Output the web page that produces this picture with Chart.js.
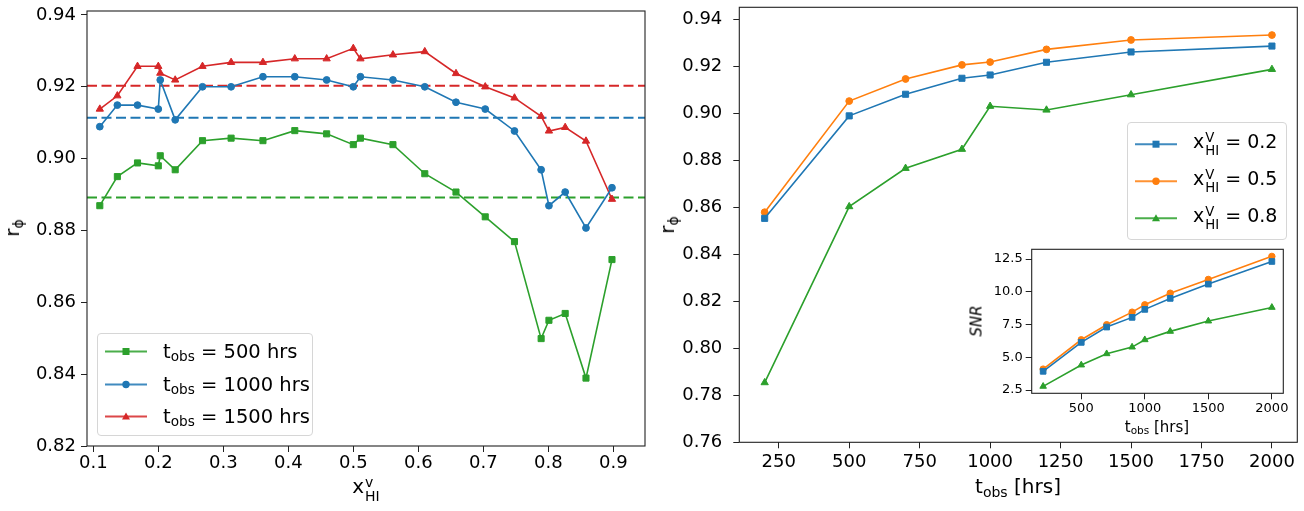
<!DOCTYPE html>
<html lang="en">
  <head>
    <meta charset="UTF-8" />
    <title>r_phi against x_HI and t_obs</title>
    <style>
      body { margin: 0; background: #fff; font-family: "DejaVu Sans", sans-serif; }
      #wrap { position: relative; width: 1304px; height: 511px; overflow: hidden; }
      canvas { position: absolute; }
      .lbl { position: absolute; transform: translate(-50%, -50%); white-space: nowrap; color: #000; font-size: 20px; line-height: 1; }
      .rot { transform: translate(-50%, -50%) rotate(-90deg); }
      sub { font-size: 0.7em; vertical-align: -0.28em; line-height: 0; }
      .ss { display: inline-flex; flex-direction: column; font-size: 0.7em; line-height: 1; vertical-align: 0.45em; margin-left: 1px; }
      .legend { position: absolute; border: 1px solid #d6d6d6; border-radius: 4px; background: rgba(255, 255, 255, 0.8); box-sizing: border-box; }
      .row { position: absolute; left: 0; display: flex; align-items: center; transform: translateY(-50%); white-space: nowrap; }
      .row svg { display: block; }
    </style>
  </head>
  <body>
    <div id="wrap">
      <canvas id="left" width="660" height="511" style="left:0;top:0"></canvas>
      <canvas id="right" width="644" height="511" style="left:660px;top:0"></canvas>
      <canvas id="inset" width="330" height="200" style="left:966px;top:244px"></canvas>

      <div class="lbl rot" style="left:12px;top:228px">r<sub>ϕ</sub></div>
      <div class="lbl" style="left:366px;top:489px">x<span class="ss"><span>v</span><span>HI</span></span></div>
      <div class="lbl rot" style="left:667px;top:225px">r<sub>ϕ</sub></div>
      <div class="lbl" style="left:1018px;top:486px">t<sub>obs</sub> [hrs]</div>
      <div class="lbl" style="left:1157px;top:427px;font-size:15px">t<sub>obs</sub> [hrs]</div>
      <div class="lbl rot" style="left:977px;top:321px;font-size:15px;font-style:italic">SNR</div>

      <div id="legLeft" class="legend" style="left:97px;top:333px;width:216px;height:103px"></div>
      <div id="legRight" class="legend" style="left:1127px;top:122px;width:160px;height:118px"></div>
    </div>

    <script src="https://cdn.jsdelivr.net/npm/chart.js@4.4.0/dist/chart.umd.min.js"></script>
    <script>
      // left panel: r_phi against neutral fraction
      const xHI = [0.110, 0.137, 0.168, 0.200, 0.203, 0.226, 0.268, 0.312, 0.361, 0.410, 0.459, 0.500,
                   0.511, 0.561, 0.610, 0.658, 0.703, 0.748, 0.789, 0.801, 0.826, 0.858, 0.898];
      const r500 = [0.8869, 0.8950, 0.8988, 0.8980, 0.9008, 0.8969, 0.9050, 0.9057, 0.9050, 0.9078, 0.9069, 0.9039,
                    0.9057, 0.9039, 0.8958, 0.8907, 0.8838, 0.8769, 0.8499, 0.8550, 0.8569, 0.8389, 0.8719];
      const r1000 = [0.9089, 0.9149, 0.9149, 0.9138, 0.9219, 0.9108, 0.9200, 0.9200, 0.9228, 0.9228, 0.9219, 0.9200,
                     0.9228, 0.9219, 0.9200, 0.9157, 0.9138, 0.9077, 0.8969, 0.8869, 0.8907, 0.8807, 0.8919];
      const r1500 = [0.9138, 0.9175, 0.9257, 0.9257, 0.9238, 0.9219, 0.9257, 0.9268, 0.9268, 0.9278, 0.9278, 0.9307,
                     0.9278, 0.9289, 0.9298, 0.9237, 0.9200, 0.9169, 0.9118, 0.9077, 0.9087, 0.9049, 0.8887];
      const meanR = [0.8892, 0.9114, 0.9203]; // 500, 1000, 1500 hrs
      const xTicksLeft = [0.1, 0.2, 0.3, 0.4, 0.5, 0.6, 0.7, 0.8, 0.9];
      const yTicksLeft = [0.82, 0.84, 0.86, 0.88, 0.90, 0.92, 0.94];

      // right panel: r_phi against observing time
      const tObs = [200, 500, 700, 900, 1000, 1200, 1500, 2000];
      const rX02 = [0.8553, 0.8989, 0.9081, 0.9149, 0.9163, 0.9217, 0.9261, 0.9286];
      const rX05 = [0.8579, 0.9052, 0.9146, 0.9206, 0.9218, 0.9272, 0.9312, 0.9333];
      const rX08 = [0.7854, 0.8603, 0.8766, 0.8847, 0.9030, 0.9014, 0.9079, 0.9187];
      const xTicksRight = [250, 500, 750, 1000, 1250, 1500, 1750, 2000];
      const yTicksRight = [0.76, 0.78, 0.80, 0.82, 0.84, 0.86, 0.88, 0.90, 0.92, 0.94];

      // inset: SNR against observing time
      const snrX02 = [3.93, 6.14, 7.31, 8.05, 8.66, 9.50, 10.59, 12.32];
      const snrX05 = [4.10, 6.34, 7.49, 8.45, 9.01, 9.90, 10.95, 12.71];
      const snrX08 = [2.78, 4.41, 5.27, 5.78, 6.34, 6.98, 7.77, 8.81];
      const xTicksInset = [500, 1000, 1500, 2000];
      const yTicksInset = [2.5, 5.0, 7.5, 10.0, 12.5];

      const C = { blue: "#1f77b4", orange: "#ff7f0e", green: "#2ca02c", red: "#d62728" };

      Chart.defaults.font.family = "'DejaVu Sans', sans-serif";
      Chart.defaults.color = "#000";

      // white axes face + black frame round the plot area
      const frame = {
        id: "frame",
        beforeDraw(chart) {
          const a = chart.chartArea, ctx = chart.ctx;
          ctx.save();
          ctx.fillStyle = "#fff";
          ctx.fillRect(a.left, a.top, a.right - a.left, a.bottom - a.top);
          ctx.restore();
        },
        afterDraw(chart) {
          const a = chart.chartArea, ctx = chart.ctx;
          ctx.save();
          ctx.strokeStyle = "#222";
          ctx.lineWidth = 1.1;
          ctx.strokeRect(a.left, a.top, a.right - a.left, a.bottom - a.top);
          ctx.restore();
        }
      };

      function axis(ticks, min, max, digits, size, fitKey, fitVal, pad) {
        return {
          type: "linear", min, max,
          afterBuildTicks: s => { s.ticks = ticks.map(v => ({ value: v })); },
          afterFit: s => {
            s[fitKey] = fitVal;
            // plot area is placed by layout padding, not by label overflow
            s.paddingTop = s.paddingBottom = s.paddingLeft = s.paddingRight = 0;
          },
          ticks: { callback: v => Number(v).toFixed(digits), font: { size }, padding: pad, maxRotation: 0, autoSkip: false, color: "#000" },
          grid: { display: true, drawOnChartArea: false, drawTicks: true, tickLength: 6, color: "#222" },
          border: { display: false }
        };
      }

      function series(xs, ys, color, shape, r) {
        return {
          data: xs.map((x, i) => ({ x, y: ys[i] })),
          borderColor: color, backgroundColor: color, borderWidth: 1.6,
          pointStyle: shape, pointRadius: r, pointBorderWidth: 1, pointBorderColor: color,
          tension: 0, fill: false
        };
      }

      function hline(y, color, x0, x1) {
        return { data: [{ x: x0, y }, { x: x1, y }], borderColor: color, borderWidth: 2, borderDash: [10, 4.5], pointRadius: 0, fill: false };
      }

      function options(scales, padding) {
        return {
          responsive: false, animation: false, events: [],
          layout: { padding },
          plugins: { legend: { display: false }, tooltip: { enabled: false } },
          scales
        };
      }

      const xMinL = 0.0903, xMaxL = 0.9488;
      new Chart(document.getElementById("left"), {
        type: "line",
        data: {
          datasets: [
            series(xHI, r500, C.green, "rect", 4.3),
            series(xHI, r1000, C.blue, "circle", 3.4),
            series(xHI, r1500, C.red, "triangle", 4.2),
            hline(meanR[0], C.green, xMinL, xMaxL),
            hline(meanR[1], C.blue, xMinL, xMaxL),
            hline(meanR[2], C.red, xMinL, xMaxL)
          ]
        },
        options: options({
          x: axis(xTicksLeft, xMinL, xMaxL, 1, 18, "height", 65, 1),
          y: axis(yTicksLeft, 0.82, 0.9411, 2, 18, "width", 87, 5)
        }, { left: 0, top: 11, right: 15, bottom: 0 }),
        plugins: [frame]
      });

      new Chart(document.getElementById("right"), {
        type: "line",
        data: {
          datasets: [
            series(tObs, rX02, C.blue, "rect", 4.3),
            series(tObs, rX05, C.orange, "circle", 3.4),
            series(tObs, rX08, C.green, "triangle", 4.2)
          ]
        },
        options: options({
          x: axis(xTicksRight, 110, 2090, 0, 18, "height", 68.7, 3),
          y: axis(yTicksRight, 0.76, 0.9451, 2, 18, "width", 79.3, 11)
        }, { left: 0, top: 7.3, right: 6.7, bottom: 0 }),
        plugins: [frame]
      });

      new Chart(document.getElementById("inset"), {
        type: "line",
        data: {
          datasets: [
            series(tObs, snrX02, C.blue, "rect", 4),
            series(tObs, snrX05, C.orange, "circle", 3.2),
            series(tObs, snrX08, C.green, "triangle", 3.8)
          ]
        },
        options: options({
          x: axis(xTicksInset, 110, 2090, 0, 13, "height", 50.7, 2),
          y: axis(yTicksInset, 2.25, 13.25, 1, 13, "width", 65.7, 3)
        }, { left: 0, top: 5.3, right: 12.7, bottom: 0 }),
        plugins: [frame]
      });

      // legends: line with marker in the middle, then the label
      function markerSvg(color, shape) {
        let m = "";
        if (shape === "rect") m = `<rect x="17.5" y="2.5" width="7" height="7" fill="${color}"/>`;
        if (shape === "circle") m = `<circle cx="21" cy="6" r="3.7" fill="${color}"/>`;
        if (shape === "triangle") m = `<polygon points="21,2 25,9 17,9" fill="${color}"/>`;
        return `<svg width="42" height="12"><line x1="0" y1="6" x2="42" y2="6" stroke="${color}" stroke-opacity="0.85" stroke-width="2"/>${m}</svg>`;
      }

      function fillLegend(id, rows, rowY, fontSize) {
        const box = document.getElementById(id);
        rows.forEach((r, i) => {
          const d = document.createElement("div");
          d.className = "row";
          d.style.top = rowY[i] + "px";
          d.style.left = "7px";
          d.style.fontSize = fontSize + "px";
          d.innerHTML = markerSvg(r.color, r.shape) + `<span style="margin-left:16px">${r.html}</span>`;
          box.appendChild(d);
        });
      }

      const legLeftLabels = ["500", "1000", "1500"];
      fillLegend("legLeft", [
        { color: C.green, shape: "rect", html: `t<sub>obs</sub> = ${legLeftLabels[0]} hrs` },
        { color: C.blue, shape: "circle", html: `t<sub>obs</sub> = ${legLeftLabels[1]} hrs` },
        { color: C.red, shape: "triangle", html: `t<sub>obs</sub> = ${legLeftLabels[2]} hrs` }
      ], [17, 50, 82], 19.5);

      const legRightLabels = ["0.2", "0.5", "0.8"];
      fillLegend("legRight", [
        { color: C.blue, shape: "rect", html: `x<span class="ss"><span>V</span><span>HI</span></span> = ${legRightLabels[0]}` },
        { color: C.orange, shape: "circle", html: `x<span class="ss"><span>V</span><span>HI</span></span> = ${legRightLabels[1]}` },
        { color: C.green, shape: "triangle", html: `x<span class="ss"><span>V</span><span>HI</span></span> = ${legRightLabels[2]}` }
      ], [21, 58, 95], 19);
    </script>
  </body>
</html>
